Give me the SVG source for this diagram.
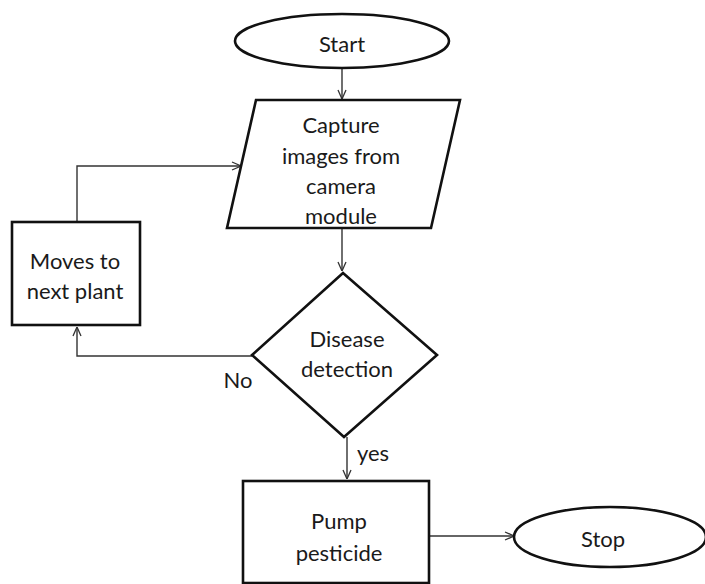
<svg xmlns="http://www.w3.org/2000/svg" width="705" height="584" viewBox="0 0 705 584">
<defs>
<marker id="arr" viewBox="0 0 10 10" refX="10" refY="5" markerWidth="10" markerHeight="10" markerUnits="userSpaceOnUse" orient="auto">
<path d="M1,1 L10,5 L1,9" fill="none" stroke="#333" stroke-width="1.3"/>
</marker>
<style>
.shape{fill:#fff;stroke:#111;stroke-width:2.6}
.conn{fill:none;stroke:#333;stroke-width:1.4;marker-end:url(#arr)}
text{font-family:Lato,"Open Sans","Liberation Sans",sans-serif;font-size:22px;fill:#1a1a1a;text-anchor:middle;dominant-baseline:central}
</style>
</defs>
<rect width="705" height="584" fill="#fff"/>
<g id="connectors">
<path class="conn" d="M342,68 L342,99"/>
<path class="conn" d="M342,229 L342,271"/>
<path class="conn" d="M252,356 L77,356 L77,327"/>
<path class="conn" d="M77,222 L77,166 L241,166"/>
<path class="conn" d="M347,437 L347,479"/>
<path class="conn" d="M429,536 L514,536"/>
</g>
<g id="start">
<ellipse class="shape" cx="342" cy="41" rx="107" ry="27"/>
<text x="342" y="43">Start</text>
</g>
<g id="capture">
<polygon class="shape" points="256,100 460,100 431,228 227,228"/>
<text x="341" y="124">Capture</text>
<text x="341" y="155">images from</text>
<text x="341" y="185">camera</text>
<text x="341" y="215">module</text>
</g>
<g id="moves">
<rect class="shape" x="12" y="222" width="128" height="103"/>
<text x="75" y="260">Moves to</text>
<text x="75" y="290">next plant</text>
</g>
<g id="disease">
<polygon class="shape" points="343,273 437,355 344,437 252,355"/>
<text x="347" y="338">Disease</text>
<text x="347" y="368">detection</text>
</g>
<g id="labels">
<text x="238" y="379">No</text>
<text x="373" y="452">yes</text>
</g>
<g id="pump">
<rect class="shape" x="243" y="481" width="186" height="102"/>
<text x="339" y="520">Pump</text>
<text x="339" y="552">pesticide</text>
</g>
<g id="stop">
<ellipse class="shape" cx="610" cy="537" rx="96" ry="30"/>
<text x="603" y="538">Stop</text>
</g>
</svg>
